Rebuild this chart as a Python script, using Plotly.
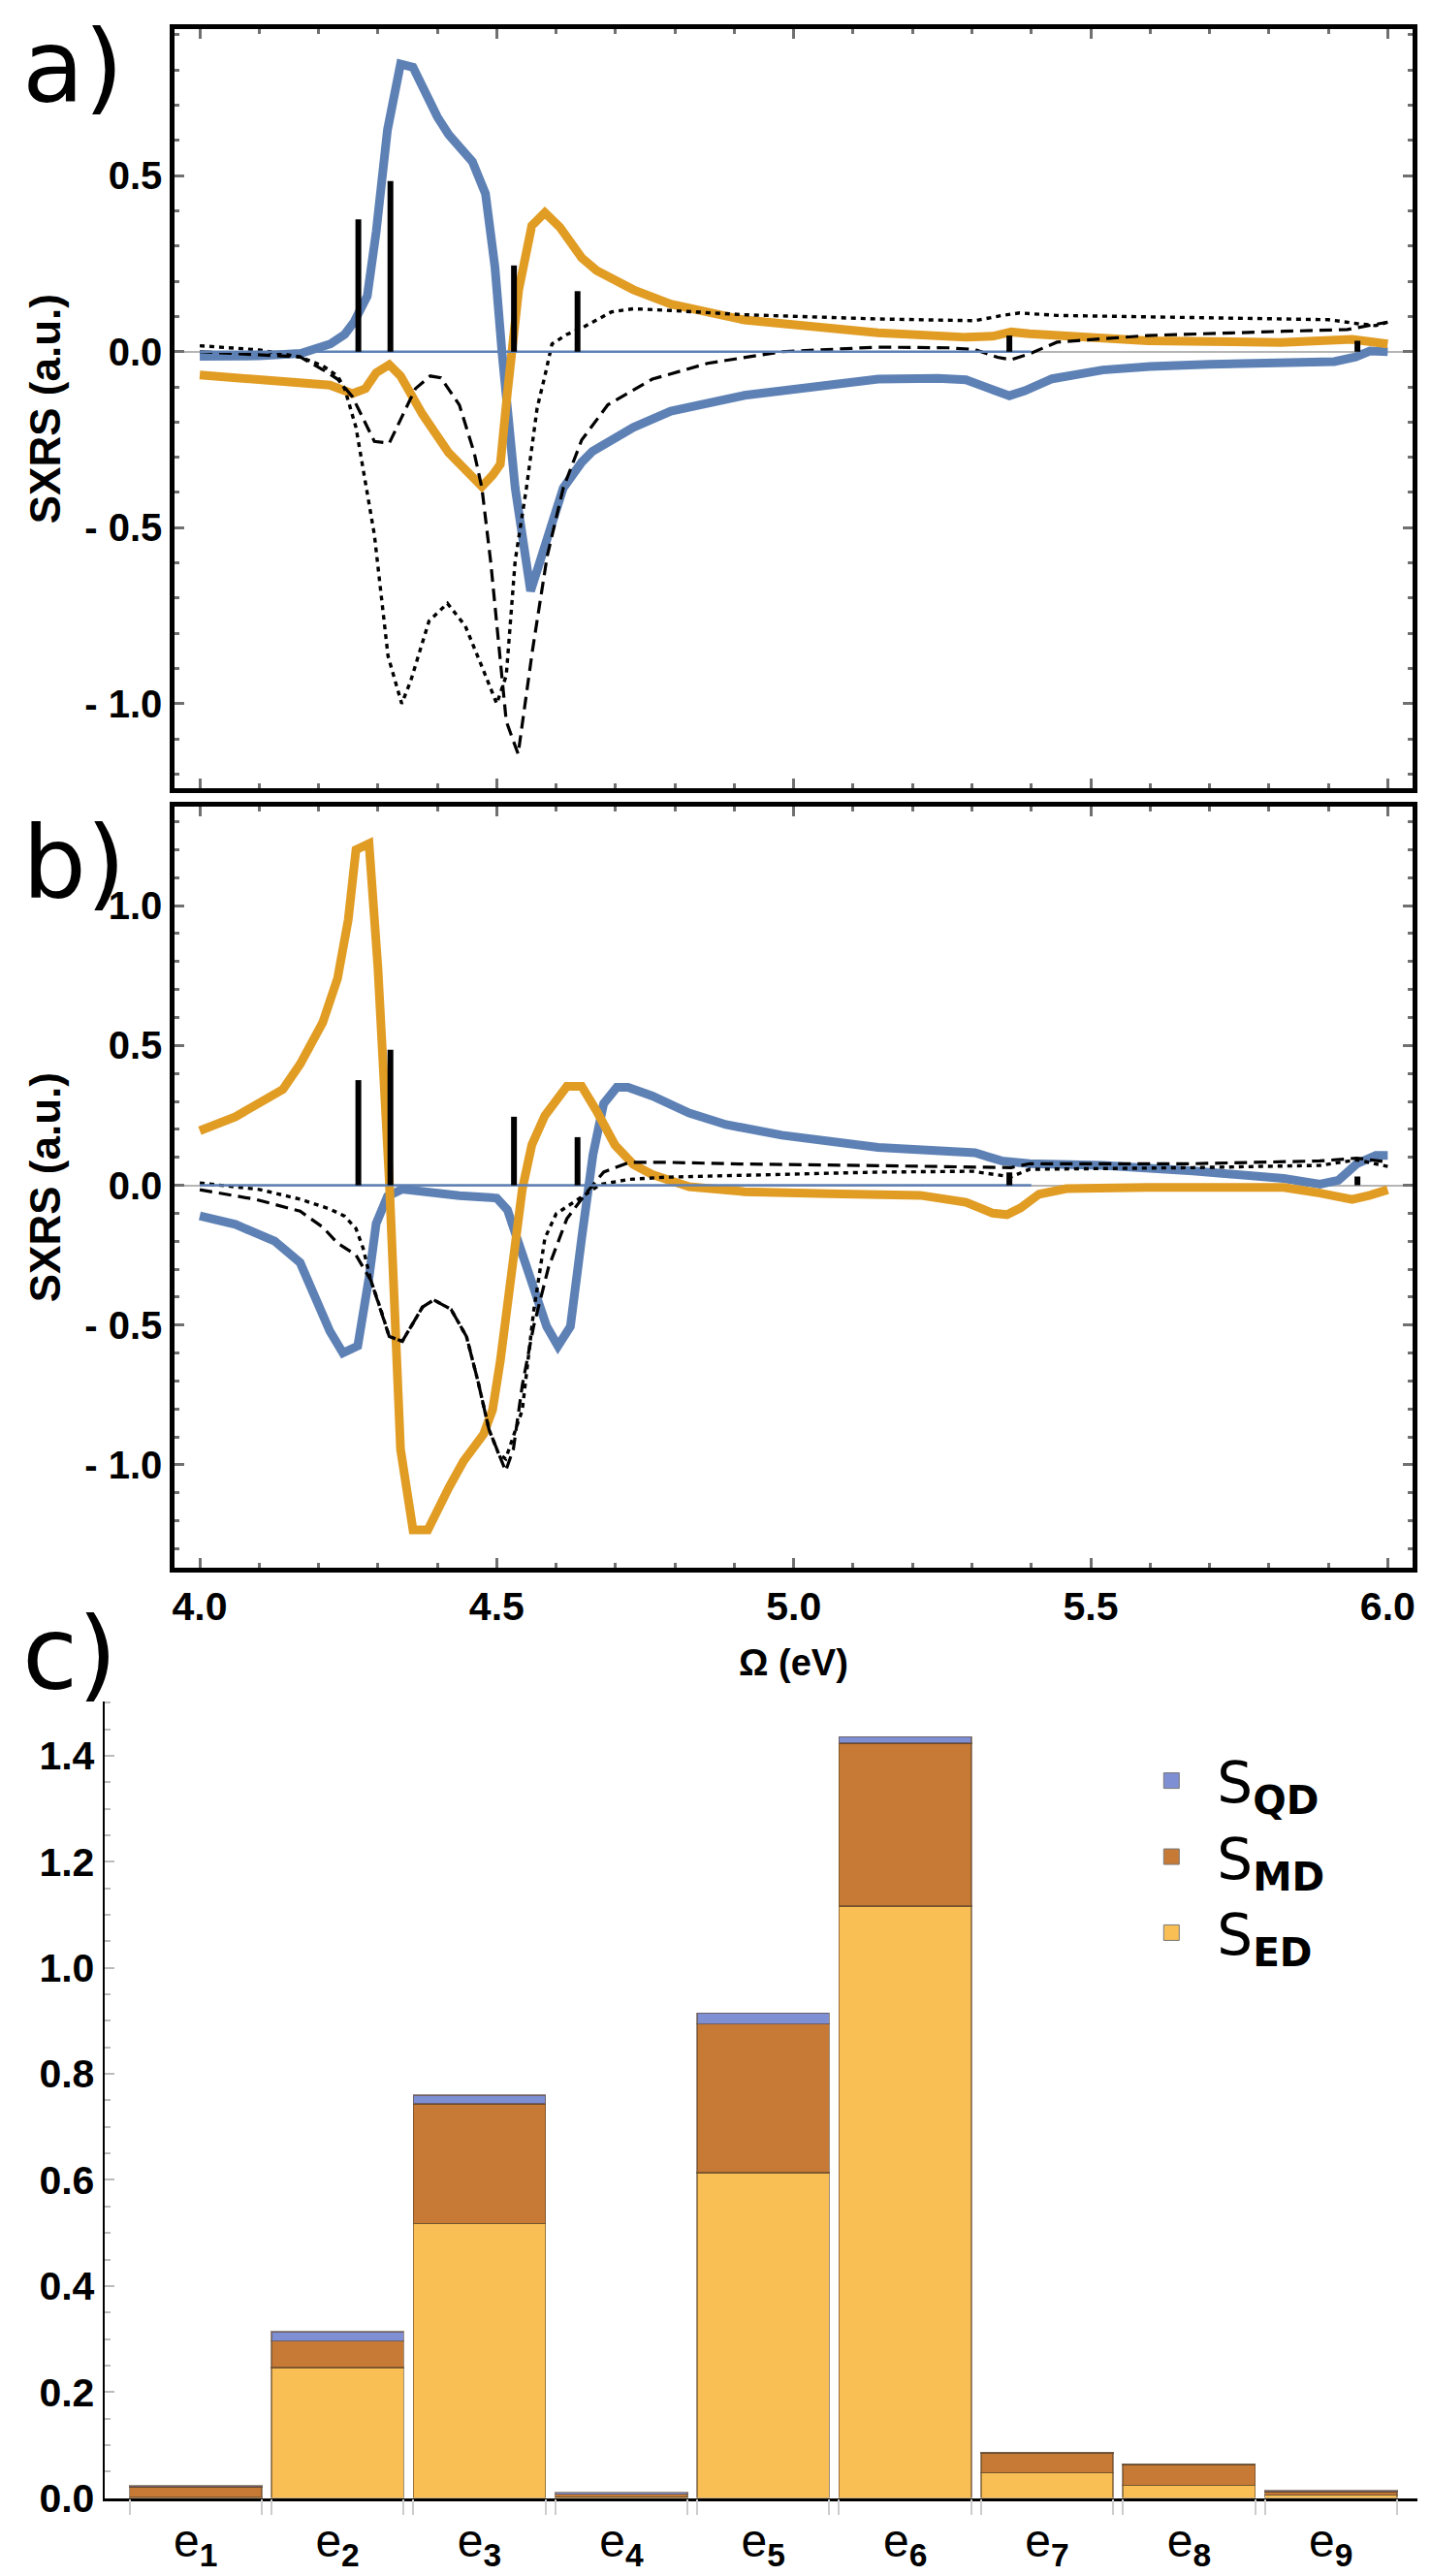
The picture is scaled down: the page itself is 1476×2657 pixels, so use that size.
import plotly.graph_objects as go

W, H = 1476, 2657

# ---------------- panel a) curves ----------------
a_blue_x = [4.00, 4.10, 4.17, 4.22, 4.244, 4.26, 4.282, 4.297, 4.316, 4.338, 4.359, 4.40, 4.419, 4.459,
            4.481, 4.497, 4.509, 4.531, 4.557, 4.585, 4.612, 4.643, 4.661, 4.73, 4.793, 4.917, 5.00, 5.142,
            5.243, 5.29, 5.335, 5.363, 5.389, 5.435, 5.52, 5.60, 5.70, 5.80, 5.91, 5.946, 5.97, 6.00]
a_blue_y = [-0.013, -0.012, -0.005, 0.022, 0.049, 0.085, 0.158, 0.34, 0.63, 0.817, 0.808, 0.667, 0.617, 0.54,
            0.449, 0.24, -0.005, -0.387, -0.68, -0.536, -0.387, -0.314, -0.283, -0.215, -0.169, -0.124, -0.105, -0.078,
            -0.076, -0.08, -0.108, -0.125, -0.111, -0.077, -0.052, -0.042, -0.036, -0.031, -0.028, -0.015, 0.002, 0.0]

a_orange_x = [4.00, 4.10, 4.169, 4.219, 4.257, 4.279, 4.297, 4.319, 4.338, 4.375, 4.419, 4.475, 4.493, 4.506,
              4.518, 4.537, 4.559, 4.581, 4.606, 4.643, 4.668, 4.73, 4.793, 4.917, 5.142, 5.29, 5.335, 5.366,
              5.397, 5.52, 5.596, 5.70, 5.82, 5.94, 6.00]
a_orange_y = [-0.066, -0.078, -0.085, -0.095, -0.119, -0.105, -0.06, -0.037, -0.069, -0.178, -0.287, -0.383, -0.351, -0.32,
              -0.115, 0.176, 0.358, 0.395, 0.354, 0.267, 0.231, 0.176, 0.135, 0.09, 0.054, 0.041, 0.044, 0.056,
              0.051, 0.038, 0.031, 0.029, 0.026, 0.035, 0.022]

a_dash_x = [4.00, 4.10, 4.169, 4.207, 4.232, 4.257, 4.294, 4.319, 4.337, 4.363, 4.388, 4.406, 4.437, 4.462,
            4.475, 4.49, 4.516, 4.536, 4.56, 4.585, 4.612, 4.643, 4.687, 4.762, 4.855, 4.98, 5.142, 5.26,
            5.305, 5.343, 5.366, 5.397, 5.443, 5.596, 5.825, 5.932, 6.00]
a_dash_y = [0.0, -0.008, -0.015, -0.051, -0.078, -0.128, -0.255, -0.26, -0.196, -0.105, -0.069, -0.074, -0.151, -0.287,
            -0.387, -0.60, -1.05, -1.143, -0.85, -0.58, -0.387, -0.251, -0.151, -0.078, -0.033, 0.0, 0.013, 0.011,
            0.006, -0.016, -0.023, -0.006, 0.027, 0.046, 0.058, 0.063, 0.084]

a_dot_x = [4.00, 4.10, 4.169, 4.207, 4.232, 4.244, 4.263, 4.275, 4.281, 4.294, 4.317, 4.34, 4.355, 4.386,
           4.417, 4.447, 4.478, 4.50, 4.516, 4.531, 4.55, 4.568, 4.581, 4.593, 4.618, 4.643, 4.693, 4.73,
           4.793, 4.917, 5.142, 5.305, 5.351, 5.38, 5.443, 5.672, 5.90, 5.948, 5.98, 6.00]
a_dot_y = [0.017, 0.005, -0.015, -0.04, -0.069, -0.105, -0.215, -0.33, -0.387, -0.52, -0.865, -1.0, -0.936, -0.765,
           -0.715, -0.779, -0.907, -1.0, -0.92, -0.594, -0.387, -0.16, -0.069, 0.022, 0.049, 0.067, 0.113, 0.122,
           0.117, 0.105, 0.093, 0.088, 0.103, 0.11, 0.103, 0.096, 0.091, 0.08, 0.074, 0.084]

# ---------------- panel b) curves ----------------
b_blue_x = [4.00, 4.06, 4.126, 4.169, 4.194, 4.219, 4.241, 4.266, 4.285, 4.297, 4.316, 4.341, 4.437, 4.481,
            4.50, 4.518, 4.543, 4.568, 4.584, 4.603, 4.624, 4.643, 4.662, 4.68, 4.702, 4.721, 4.762, 4.824,
            4.886, 4.98, 5.142, 5.305, 5.35, 5.397, 5.52, 5.672, 5.825, 5.886, 5.917, 5.948, 5.98, 6.00]
b_blue_y = [-0.11, -0.14, -0.2, -0.277, -0.40, -0.522, -0.60, -0.575, -0.33, -0.137, -0.04, -0.014, -0.037, -0.04,
            -0.046, -0.088, -0.242, -0.418, -0.505, -0.575, -0.505, -0.189, 0.109, 0.292, 0.35, 0.35, 0.319, 0.258,
            0.217, 0.179, 0.135, 0.116, 0.087, 0.077, 0.071, 0.051, 0.024, 0.004, 0.018, 0.077, 0.107, 0.107]

b_orange_x = [4.00, 4.06, 4.14, 4.169, 4.207, 4.232, 4.25, 4.263, 4.285, 4.30, 4.319, 4.338, 4.359, 4.384,
              4.419, 4.444, 4.478, 4.493, 4.506, 4.524, 4.543, 4.559, 4.581, 4.618, 4.643, 4.668, 4.699, 4.73,
              4.762, 4.824, 4.917, 5.06, 5.213, 5.29, 5.335, 5.359, 5.382, 5.413, 5.459, 5.596, 5.825, 5.886,
              5.94, 5.97, 6.00]
b_orange_y = [0.195, 0.245, 0.343, 0.433, 0.582, 0.74, 0.95, 1.20, 1.222, 0.775, 0.02, -0.944, -1.233, -1.233,
              -1.083, -0.987, -0.89, -0.803, -0.628, -0.33, -0.014, 0.144, 0.249, 0.354, 0.354, 0.266, 0.144, 0.074,
              0.038, -0.005, -0.023, -0.03, -0.036, -0.061, -0.1, -0.105, -0.081, -0.032, -0.012, -0.008, -0.008, -0.028,
              -0.051, -0.036, -0.016]

b_dash_x = [4.00, 4.095, 4.169, 4.207, 4.232, 4.263, 4.288, 4.306, 4.319, 4.341, 4.375, 4.394, 4.423, 4.449,
            4.468, 4.487, 4.503, 4.515, 4.528, 4.543, 4.562, 4.587, 4.618, 4.649, 4.68, 4.723, 4.785, 4.909,
            5.142, 5.366, 5.397, 5.672, 5.886, 5.948, 6.00]
b_dash_y = [-0.016, -0.051, -0.093, -0.15, -0.207, -0.25, -0.34, -0.453, -0.541, -0.558, -0.436, -0.41, -0.444, -0.541,
            -0.698, -0.874, -0.96, -1.022, -0.944, -0.716, -0.505, -0.295, -0.12, -0.032, 0.047, 0.082, 0.082, 0.076,
            0.07, 0.063, 0.077, 0.077, 0.087, 0.097, 0.083]

b_dot_x = [4.00, 4.10, 4.169, 4.219, 4.244, 4.263, 4.275, 4.288, 4.306, 4.319, 4.341, 4.375, 4.394, 4.423,
           4.449, 4.468, 4.487, 4.503, 4.515, 4.528, 4.543, 4.562, 4.581, 4.60, 4.637, 4.675, 4.723, 4.785,
           5.142, 5.30, 5.366, 5.397, 5.672, 5.886, 5.948, 6.00]
b_dot_y = [0.008, -0.015, -0.05, -0.085, -0.111, -0.155, -0.225, -0.34, -0.453, -0.541, -0.558, -0.436, -0.41, -0.444,
           -0.541, -0.698, -0.874, -0.96, -0.979, -0.90, -0.804, -0.453, -0.19, -0.102, -0.05, 0.003, 0.021, 0.029,
           0.047, 0.05, 0.03, 0.057, 0.063, 0.071, 0.091, 0.067]

# transition sticks (same in a and b)
stick_x = [4.267, 4.321, 4.529, 4.636, 5.363, 5.949]
stick_h = [0.376, 0.485, 0.245, 0.172, 0.046, 0.031]
base_x = [4.0, 5.40]
base_y = [0.0, 0.0]

# ---------------- panel c) bars ----------------
states = ["e<sub><b>%d</b></sub>" % i for i in range(1, 10)]
pos = list(range(1, 10))
s_ed = [0.001, 0.246, 0.518, 0.002, 0.614, 1.117, 0.048, 0.024, 0.006]
s_md = [0.020, 0.050, 0.226, 0.005, 0.280, 0.307, 0.037, 0.039, 0.006]
s_qd = [0.002, 0.018, 0.016, 0.004, 0.021, 0.012, 0.001, 0.001, 0.002]
bar_w = 0.932

BLUE = "#5E81B5"
ORANGE = "#E19C24"
C_ED, C_MD, C_QD = "#F9BF55", "#C77A35", "#7F8FD4"

fig = go.Figure()

for xa, ya, series in [("x", "y", (a_blue_x, a_blue_y, a_orange_x, a_orange_y, a_dash_x, a_dash_y, a_dot_x, a_dot_y)),
                       ("x2", "y2", (b_blue_x, b_blue_y, b_orange_x, b_orange_y, b_dash_x, b_dash_y, b_dot_x, b_dot_y))]:
    bx, by, ox, oy, dx, dy, tx, ty = series
    fig.add_trace(go.Scatter(x=bx, y=by, mode="lines", line=dict(color=BLUE, width=9),
                             xaxis=xa, yaxis=ya, showlegend=False))
    fig.add_trace(go.Scatter(x=ox, y=oy, mode="lines", line=dict(color=ORANGE, width=9),
                             xaxis=xa, yaxis=ya, showlegend=False))
    fig.add_trace(go.Scatter(x=dx, y=dy, mode="lines", line=dict(color="black", width=3.2, dash="13px,7px"),
                             xaxis=xa, yaxis=ya, showlegend=False))
    fig.add_trace(go.Scatter(x=tx, y=ty, mode="lines", line=dict(color="black", width=3.4, dash="5px,5px"),
                             xaxis=xa, yaxis=ya, showlegend=False))
    fig.add_trace(go.Scatter(x=base_x, y=base_y, mode="lines", line=dict(color=BLUE, width=2.5),
                             xaxis=xa, yaxis=ya, showlegend=False))
    sx, sy = [], []
    for xv, hv in zip(stick_x, stick_h):
        sx += [xv, xv, None]
        sy += [0, hv, None]
    fig.add_trace(go.Scatter(x=sx, y=sy, mode="lines", line=dict(color="black", width=6),
                             xaxis=xa, yaxis=ya, showlegend=False))

edge = "rgba(90,65,40,0.6)"
for vals, col in [(s_ed, C_ED), (s_md, C_MD), (s_qd, C_QD)]:
    fig.add_trace(go.Bar(x=pos, y=vals, width=bar_w, marker=dict(color=col, line=dict(color=edge, width=1.5)),
                         xaxis="x3", yaxis="y3", showlegend=False))

# legend entries
for name, col in [("S<sub><b>QD</b></sub>", C_QD), ("S<sub><b>MD</b></sub>", C_MD), ("S<sub><b>ED</b></sub>", C_ED)]:
    fig.add_trace(go.Scatter(x=[None], y=[None], mode="markers", name=name,
                             marker=dict(symbol="square", size=16, color=col, line=dict(color="#777", width=1)),
                             xaxis="x3", yaxis="y3"))

# invisible trace so the bar-edge tick axis gets drawn
edges = []
for p in pos:
    edges += [p - bar_w / 2, p + bar_w / 2]
fig.add_trace(go.Scatter(x=[None], y=[None], mode="markers", xaxis="x4", yaxis="y3", showlegend=False))


def py(p):
    return 1 - p / H


tick_font = dict(family="Liberation Sans", size=40, color="black", weight="bold")
narrow_font = dict(family="Liberation Sans Narrow, Liberation Sans", size=41, color="black", weight="bold")

frame = dict(showline=True, linecolor="black", linewidth=5, mirror="allticks", ticks="inside",
             ticklen=10, tickwidth=3, tickcolor="#707070", showgrid=False,
             minor=dict(ticks="inside", ticklen=5, tickwidth=3, tickcolor="#707070", dtick=0.1, showgrid=False))

x_ticks = [4.0, 4.5, 5.0, 5.5, 6.0]
x_text = ["4.0", "4.5", "5.0", "5.5", "6.0"]

fig.update_layout(
    width=W, height=H, plot_bgcolor="white", paper_bgcolor="white",
    margin=dict(l=0, r=0, t=0, b=0),
    barmode="stack",
    xaxis=dict(domain=[170 / W, 1452 / W], range=[3.958, 6.042], anchor="y", tickvals=x_ticks,
               showticklabels=False, zeroline=False, **frame),
    yaxis=dict(domain=[py(812), py(22)], range=[-1.24, 0.917], anchor="x",
               tickvals=[-1.0, -0.5, 0.0, 0.5], ticktext=["- 1.0", "- 0.5", "0.0", "0.5"], tickfont=tick_font,
               zeroline=True, zerolinecolor="#b5b5b5", zerolinewidth=1.5, **frame),
    xaxis2=dict(domain=[170 / W, 1452 / W], range=[3.958, 6.042], anchor="y2", tickvals=x_ticks,
                ticktext=x_text, tickfont=narrow_font, zeroline=False, **frame),
    yaxis2=dict(domain=[py(1623), py(831)], range=[-1.368, 1.355], anchor="x2",
                tickvals=[-1.0, -0.5, 0.0, 0.5, 1.0], ticktext=["- 1.0", "- 0.5", "0.0", "0.5", "1.0"],
                tickfont=tick_font, zeroline=True, zerolinecolor="#b5b5b5", zerolinewidth=1.5, **frame),
    xaxis3=dict(domain=[97 / W, 1457 / W], range=[0.357, 9.61], anchor="y3", tickvals=pos, ticktext=states,
                ticks="", showline=True, linecolor="black", linewidth=3, showgrid=False, zeroline=False,
                tickfont=dict(family="Liberation Sans Narrow, Liberation Sans", size=48, color="black")),
    xaxis4=dict(domain=[97 / W, 1457 / W], range=[0.357, 9.61], anchor="y3", overlaying="x3",
                tickvals=edges, showticklabels=False, ticks="outside", ticklen=16, tickwidth=1.5,
                tickcolor="#cccccc", showline=False, showgrid=False, zeroline=False),
    yaxis3=dict(domain=[py(2591), py(1762)], range=[0, 1.503], anchor="x3",
                tickvals=[0, 0.2, 0.4, 0.6, 0.8, 1.0, 1.2, 1.4],
                ticktext=["0.0", "0.2", "0.4", "0.6", "0.8", "1.0", "1.2", "1.4"],
                tickfont=dict(family="Liberation Sans", size=41, color="black", weight="bold"),
                showline=True, linecolor="black", linewidth=2, ticks="inside", ticklen=10, tickwidth=1.5,
                tickcolor="#bbbbbb", showgrid=False, zeroline=False,
                minor=dict(ticks="inside", ticklen=6, tickwidth=1.5, tickcolor="#bbbbbb", dtick=0.05, showgrid=False)),
    legend=dict(x=1155 / W, y=py(1800), xanchor="left", yanchor="top", traceorder="normal",
                font=dict(family="DejaVu Sans", size=58, color="black"), itemwidth=84,
                bgcolor="rgba(0,0,0,0)"),
)

label_font = dict(family="DejaVu Sans", size=104, color="black")
for txt, ypx in [("a)", 62), ("b)", 890), ("c)", 1713)]:
    fig.add_annotation(text=txt, x=10 / W, y=py(ypx), xref="paper", yref="paper", xanchor="left",
                       yanchor="middle", showarrow=False, font=label_font)

for ypx in [417, 1227]:
    fig.add_annotation(text="SXRS (a.u.)", x=36 / W, y=py(ypx), xref="paper", yref="paper", textangle=-90,
                       xanchor="center", yanchor="middle", showarrow=False,
                       font=dict(family="Liberation Sans", size=44, color="black", weight="bold"))

fig.add_annotation(text="Ω (eV)", x=811 / W, y=py(1722), xref="paper", yref="paper", xanchor="center",
                   yanchor="middle", showarrow=False,
                   font=dict(family="Liberation Sans Narrow, Liberation Sans", size=38, color="black", weight="bold"))

fig.write_html("out.html")
